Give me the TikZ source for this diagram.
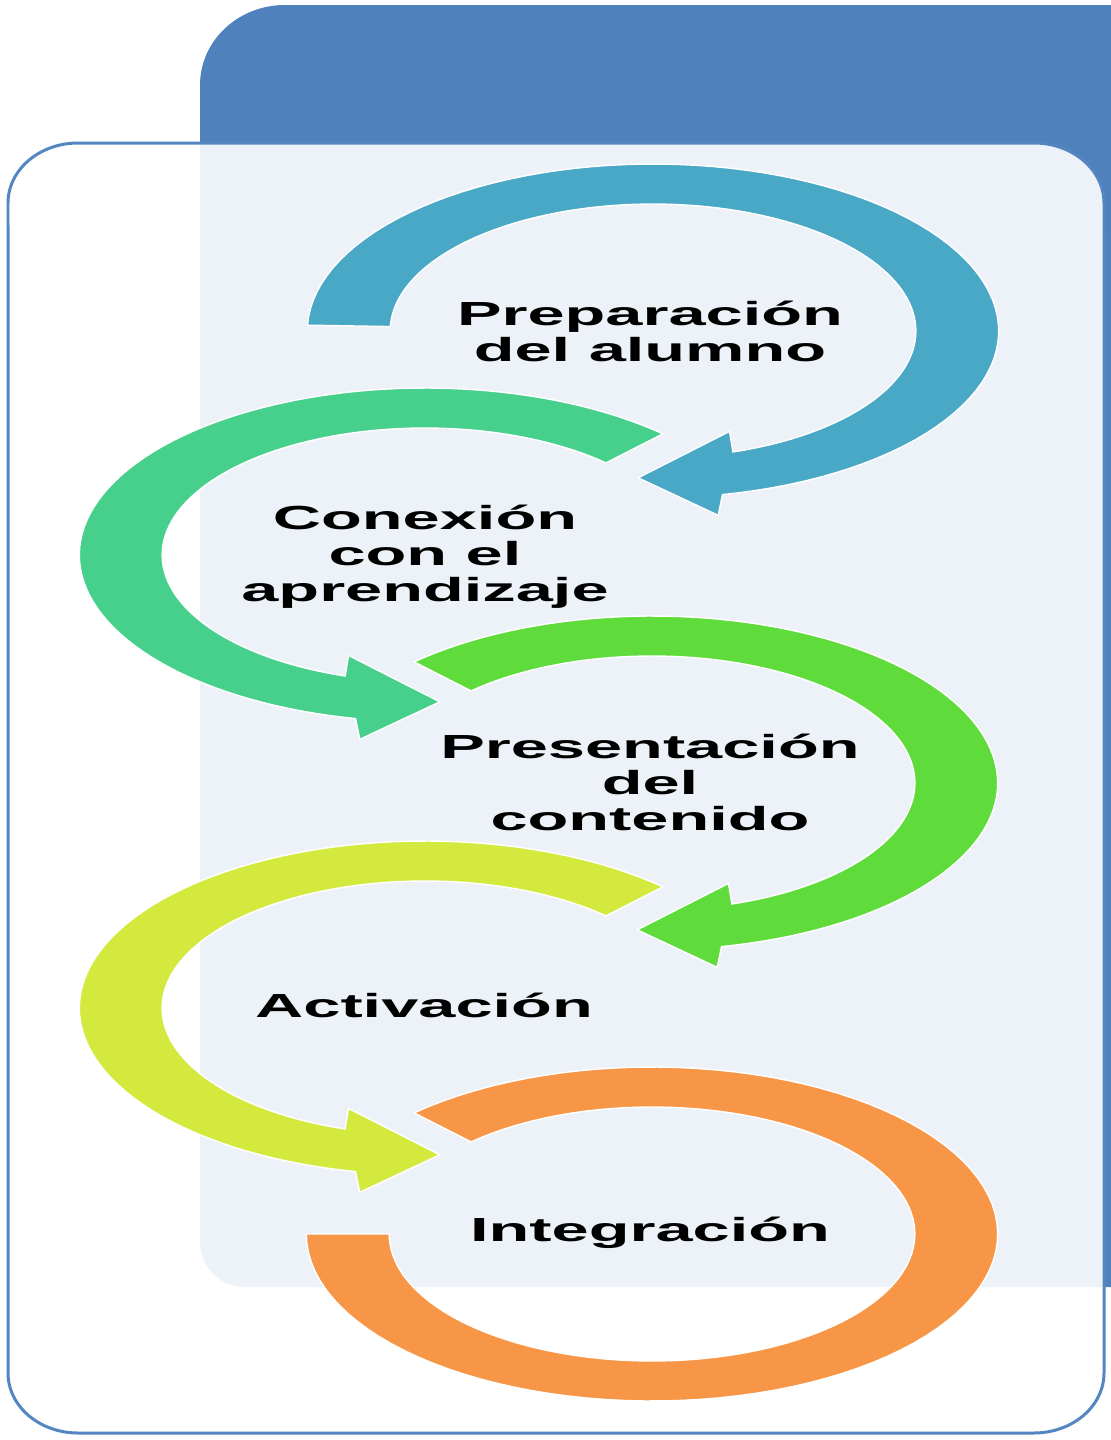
\documentclass[tikz,border=0pt]{standalone}
\usepackage{fontspec}
\newfontfamily\lblfont{Liberation Sans}[FakeStretch=2.0]
\definecolor{panelblue}{RGB}{79,129,189}
\definecolor{cardblue}{RGB}{84,134,194}
\definecolor{cA}{RGB}{72,168,197}
\definecolor{cB}{RGB}{70,208,140}
\definecolor{cC}{RGB}{95,220,60}
\definecolor{cD}{RGB}{212,233,62}
\definecolor{cE}{RGB}{247,150,70}
\begin{document}
\begin{tikzpicture}[x=0.02cm,y=-0.02cm,
  lbl/.style={font=\lblfont\bfseries\fontsize{19}{20.5}\selectfont, align=center, text=black, inner sep=0pt},
  ring/.style={draw=white, line width=0.8pt}]
\useasboundingbox (0,0) rectangle (1111,1440);
\clip (0,0) rectangle (1111,1440);
\fill[white] (0,0) rectangle (1111,1440);
% back panel
\fill[panelblue] (1200,5) -- (285,5) arc[start angle=90,end angle=180,x radius=1.7cm,y radius=1.6cm]
  -- (200,1242) arc[start angle=180,end angle=270,radius=0.9cm] -- (1200,1287) -- cycle;
% front card
\filldraw[fill=white, fill opacity=0.9, draw=cardblue, line width=0.06cm]
  (78,143) -- (1034,143) arc[start angle=90,end angle=0,x radius=1.4cm,y radius=1.2cm]
  -- (1104,1373) arc[start angle=0,end angle=-90,x radius=1.4cm,y radius=1.2cm]
  -- (78,1433) arc[start angle=-90,end angle=-180,x radius=1.4cm,y radius=1.2cm]
  -- (8,203) arc[start angle=180,end angle=90,x radius=1.4cm,y radius=1.2cm] -- cycle;
% ring 1
\begin{scope}[shift={(653,331)},xscale=2.07]
\filldraw[ring, fill=cA] plot[domain=182:438.4,samples=90] (\x:167) -- (440.3:187) -- (452.8:147)
  -- (429.8:107) -- plot[domain=432.3:182,samples=90] (\x:127) -- cycle;
\end{scope}
% ring 2
\begin{scope}[shift={(425,555)},xscale=-2.07]
\filldraw[ring, fill=cB] plot[domain=226.5:438.4,samples=90] (\x:167) -- (440.3:187) -- (452.8:147)
  -- (429.8:107) -- plot[domain=432.3:226.5,samples=90] (\x:127) -- cycle;
\end{scope}
% ring 3
\begin{scope}[shift={(652,783)},xscale=2.07]
\filldraw[ring, fill=cC] plot[domain=226.5:438.4,samples=90] (\x:167) -- (440.3:187) -- (452.8:147)
  -- (429.8:107) -- plot[domain=432.3:226.5,samples=90] (\x:127) -- cycle;
\end{scope}
% ring 4
\begin{scope}[shift={(425,1008)},xscale=-2.07]
\filldraw[ring, fill=cD] plot[domain=226.5:438.4,samples=90] (\x:167) -- (440.3:187) -- (452.8:147)
  -- (429.8:107) -- plot[domain=432.3:226.5,samples=90] (\x:127) -- cycle;
\end{scope}
% ring 5
\begin{scope}[shift={(652,1234)},xscale=2.07]
\filldraw[ring, fill=cE] plot[domain=226.5:540,samples=100] (\x:167)
  -- plot[domain=540:226.5,samples=100] (\x:127) -- cycle;
\end{scope}
% labels
\node[lbl] (prep) at (650,331) {Preparación\\del alumno};
\node[lbl] (conex) at (425,557) {Conexión\\con el\\aprendizaje};
\node[lbl] (pres) at (650,782) {Presentación\\del\\contenido};
\node[lbl] (activ) at (424,1005) {Activación};
\node[lbl] (integ) at (650,1233) {Integración};
\end{tikzpicture}
\end{document}
